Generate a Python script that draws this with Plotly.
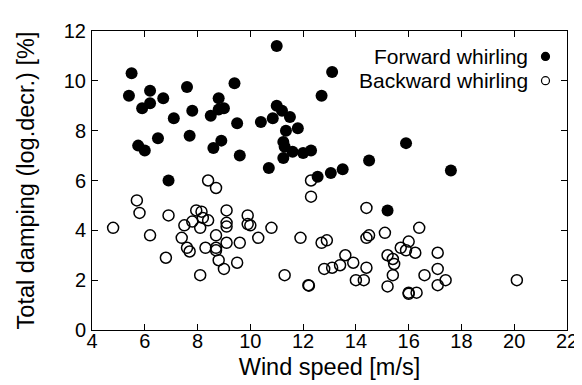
import plotly.graph_objects as go

# Forward whirling (filled markers)
fw_wind = [5.5, 5.4, 6.2, 6.7, 5.9, 6.2, 7.6, 7.1, 7.8, 6.5, 5.75, 6.0, 7.7, 6.9,
           9.4, 8.8, 8.5, 8.8, 9.0, 9.5, 8.9, 8.6, 9.6, 11.0, 13.1, 12.7, 11.0, 11.2,
           10.85, 11.5, 10.4, 11.35, 11.8, 11.25, 11.3, 11.6, 12.0, 12.3, 11.25, 10.7,
           14.5, 12.55, 13.05, 13.5, 15.9, 17.6, 15.2]
fw_damp = [10.3, 9.4, 9.6, 9.3, 8.9, 9.1, 9.75, 8.5, 8.8, 7.7, 7.4, 7.2, 7.8, 6.0,
           9.9, 9.3, 8.6, 8.85, 8.9, 8.3, 7.6, 7.3, 7.0, 11.4, 10.35, 9.4, 9.0, 8.8,
           8.5, 8.55, 8.35, 8.0, 8.1, 7.55, 7.35, 7.15, 7.1, 7.2, 6.9, 6.5,
           6.8, 6.15, 6.3, 6.45, 7.5, 6.4, 4.8]

# Backward whirling (open markers)
bw_wind = [4.8, 5.7, 5.8, 6.2, 6.9, 6.8, 7.4, 7.5, 7.6, 7.7, 7.8, 7.95, 8.1, 8.1,
           8.15, 8.2, 8.4, 8.3, 8.7, 8.7, 8.7, 8.8, 9.0, 9.1, 9.1, 9.1, 9.1, 9.5,
           9.6, 8.4, 8.7, 9.9, 9.9, 10.0, 10.3, 10.8, 11.3, 11.9, 12.2, 12.22, 12.3,
           12.3, 12.7, 12.9, 12.8, 13.1, 13.4, 13.6, 13.9, 14.0, 14.3, 14.4, 14.4,
           14.4, 14.5, 15.1, 15.2, 15.4, 15.45, 15.4, 15.2, 15.7, 15.9, 16.0, 16.25,
           16.4, 16.0, 16.0, 16.3, 16.6, 17.1, 17.1, 17.1, 17.4, 20.1]
bw_damp = [4.1, 5.2, 4.7, 3.8, 4.6, 2.9, 3.7, 4.2, 3.3, 3.15, 4.35, 4.8, 4.1, 2.2,
           4.75, 4.5, 4.4, 3.3, 3.8, 3.3, 3.2, 2.8, 2.45, 4.8, 4.3, 4.15, 3.5, 2.7,
           3.5, 6.0, 5.7, 4.6, 4.25, 4.2, 3.7, 4.1, 2.2, 3.7, 1.8, 1.78, 5.35,
           6.0, 3.5, 3.6, 2.45, 2.5, 2.6, 3.0, 2.7, 2.0, 2.0, 2.5, 4.9,
           3.7, 3.8, 3.9, 3.0, 2.85, 2.65, 2.2, 1.75, 3.3, 3.2, 3.55, 3.1,
           4.1, 1.5, 1.45, 1.5, 2.2, 3.1, 2.45, 1.8, 2.0, 2.0]

x_ticks = [4, 6, 8, 10, 12, 14, 16, 18, 20, 22]
y_ticks = [0, 2, 4, 6, 8, 10, 12]
series_names = ["Forward whirling", "Backward whirling"]

FONT = "Liberation Sans, Arial, Helvetica, sans-serif"

fig = go.Figure()
fig.add_trace(go.Scatter(
    x=bw_wind, y=bw_damp, mode="markers", name=series_names[1],
    marker=dict(symbol="circle-open", size=11, color="black", line=dict(width=1.5, color="black")),
))
fig.add_trace(go.Scatter(
    x=fw_wind, y=fw_damp, mode="markers", name=series_names[0],
    marker=dict(symbol="circle", size=12, color="black", line=dict(width=0)),
))

axis_common = dict(
    showline=True, linecolor="black", linewidth=1, mirror="ticks",
    ticks="inside", ticklen=6, tickcolor="black", tickwidth=1,
    showgrid=False, zeroline=False,
    tickfont=dict(family=FONT, size=20, color="black"),
)

fig.update_layout(
    width=582, height=385,
    margin=dict(l=84, r=12, t=20, b=63),
    paper_bgcolor="white", plot_bgcolor="white",
    showlegend=False,
    font=dict(family=FONT, color="black"),
    xaxis=dict(range=[4, 22], tickvals=x_ticks, ticktext=[str(v) for v in x_ticks],
               ticklabelstandoff=-7,
               title=dict(text="Wind speed [m/s]", font=dict(family=FONT, size=23.5), standoff=7),
               **axis_common),
    yaxis=dict(range=[0, 12], tickvals=y_ticks, ticktext=[str(v) for v in y_ticks],
               ticklabelstandoff=1,
               title=dict(text="Total damping (log.decr.) [%]", font=dict(family=FONT, size=23.5), standoff=22),
               **axis_common),
)

# legend (text right, marker on the right like the original)
leg_y = [0.915, 0.834]
for name, yy, filled in [(series_names[0], leg_y[0], True), (series_names[1], leg_y[1], False)]:
    fig.add_annotation(x=0.922, y=yy, xref="paper", yref="paper", text=name, showarrow=False,
                       xanchor="right", yanchor="middle", font=dict(family=FONT, size=21, color="black"))
    fig.add_shape(type="circle", xref="paper", yref="paper", xsizemode="pixel", ysizemode="pixel",
                  xanchor=0.9547, yanchor=yy, x0=-4, x1=4, y0=-4, y1=4,
                  fillcolor="black" if filled else "white", line=dict(color="black", width=1.2))

fig.write_html("out.html")
